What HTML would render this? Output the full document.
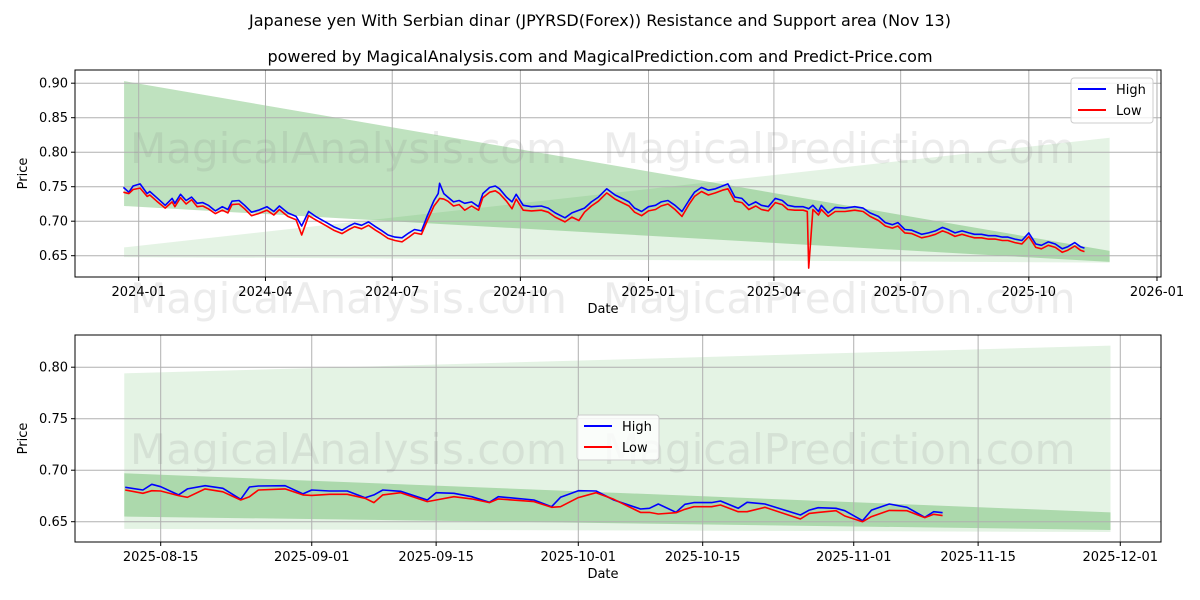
<!DOCTYPE html>
<html><head><meta charset="utf-8"><style>
html,body{margin:0;padding:0;background:#fff;}
svg{display:block;font-family:"DejaVu Sans","Liberation Sans",sans-serif;}
</style></head><body>
<svg id="svg" width="1200" height="600" viewBox="0 0 1200 600">
<text x="600" y="26" text-anchor="middle" font-size="16">Japanese yen With Serbian dinar (JPYRSD(Forex)) Resistance and Support area (Nov 13)</text>
<text x="600" y="62" text-anchor="middle" font-size="16">powered by MagicalAnalysis.com and MagicalPrediction.com and Predict-Price.com</text>
<g id="top"></g>
<g id="bot"></g>
</svg>
<script>
// ---- top chart data (days since 2024-01-01) ----
const topDays = [-11,-7,-4,1,6,8,13,19,24,26,30,34,38,42,46,50,55,60,64,67,72,76,81,86,92,97,101,107,113,117,122,127,134,140,146,151,155,160,165,170,174,179,184,189,194,198,203,207,212,215,216,219,222,226,230,234,239,244,247,252,256,259,264,268,271,276,282,289,294,299,306,311,316,320,325,330,336,342,347,352,356,361,366,371,375,380,385,390,395,399,404,409,414,419,423,428,433,438,443,447,452,457,462,466,471,477,480,481,484,488,490,495,500,507,514,520,525,531,536,541,545,550,555,562,567,572,577,581,586,591,596,600,605,610,615,620,624,629,634,639,644,648,653,658,663,667,672,676,679];
const topHigh = [.749,.742,.751,.754,.740,.743,.734,.723,.733,.726,.739,.730,.735,.726,.727,.723,.715,.721,.717,.729,.730,.723,.713,.716,.721,.714,.722,.712,.707,.693,.714,.707,.699,.692,.687,.693,.697,.694,.699,.692,.687,.680,.677,.676,.683,.688,.686,.707,.730,.740,.755,.740,.735,.728,.730,.726,.728,.721,.740,.749,.751,.747,.735,.728,.739,.723,.721,.722,.719,.712,.705,.712,.716,.719,.728,.735,.747,.738,.733,.728,.719,.714,.721,.723,.728,.730,.723,.714,.730,.742,.749,.745,.747,.751,.754,.735,.733,.723,.728,.723,.721,.733,.730,.723,.721,.721,.719,.718,.723,.714,.723,.712,.720,.719,.721,.719,.712,.707,.698,.695,.698,.688,.687,.681,.683,.686,.691,.688,.683,.686,.683,.681,.681,.679,.679,.677,.677,.674,.672,.683,.667,.665,.670,.667,.660,.663,.669,.663,.661];
const topLow  = [.742,.740,.746,.748,.736,.738,.729,.719,.728,.721,.734,.725,.731,.721,.722,.718,.711,.716,.712,.724,.725,.718,.708,.711,.716,.709,.717,.707,.702,.680,.708,.702,.694,.687,.682,.688,.692,.689,.694,.687,.682,.675,.672,.670,.677,.683,.681,.700,.722,.730,.733,.732,.729,.722,.724,.716,.722,.716,.734,.742,.744,.740,.729,.718,.732,.716,.715,.716,.713,.706,.699,.706,.701,.713,.722,.729,.741,.732,.727,.722,.713,.708,.715,.717,.722,.725,.717,.707,.724,.736,.743,.738,.741,.745,.747,.729,.727,.717,.722,.717,.715,.727,.724,.717,.716,.716,.714,.632,.717,.709,.717,.707,.714,.714,.716,.714,.707,.701,.693,.690,.693,.683,.682,.676,.678,.681,.686,.683,.678,.681,.678,.676,.676,.674,.674,.672,.672,.669,.667,.678,.662,.660,.665,.662,.655,.658,.664,.658,.656];
const topTickLabels = ['2024-01','2024-04','2024-07','2024-10','2025-01','2025-04','2025-07','2025-10','2026-01'];
const topTickDays = [0,91,182,274,366,456,547,639,731];
const topYTicks = [0.65,0.70,0.75,0.80,0.85,0.90];
const topBandDays = [-10.5,697];
const topBandA_upper = [.903,.657], topBandA_lower = [.722,.641];
const topBandB_upper = [.662,.821], topBandB_lower = [.648,.640];

// ---- bottom chart data (days since 2025-08-15) ----
const botDays = [-4,-2,-1,0,2,3,5,7,9,10,11,14,16,17,19,21,23,24,25,27,30,31,33,35,37,38,42,44,45,47,49,51,54,55,56,58,59,60,62,63,65,66,68,72,73,74,76,77,79,80,82,84,86,87,88];
const botHigh = [.6834,.6808,.6863,.684,.676,.6818,.685,.6824,.6717,.6837,.6847,.685,.677,.6808,.6798,.6798,.6733,.676,.6808,.6795,.6711,.6782,.6776,.6743,.6688,.6743,.6711,.6646,.6737,.6801,.6798,.6711,.6623,.663,.6672,.6591,.6669,.6685,.6685,.6701,.663,.6688,.6672,.6565,.6613,.6636,.663,.6607,.651,.6613,.6672,.664,.6543,.6597,.6587];
const botLow  = [.6808,.6776,.6801,.6798,.6753,.6737,.6818,.679,.6711,.6743,.6808,.6818,.676,.6755,.6766,.6766,.6727,.6685,.676,.6782,.6695,.6711,.6743,.6721,.6685,.6721,.6695,.664,.6646,.6734,.6782,.6717,.659,.659,.6575,.6587,.662,.6646,.6646,.6662,.6597,.6597,.664,.6526,.6581,.659,.6607,.6555,.65,.655,.661,.6607,.654,.6572,.6559];
const botTickLabels = ['2025-08-15','2025-09-01','2025-09-15','2025-10-01','2025-10-15','2025-11-01','2025-11-15','2025-12-01'];
const botTickDays = [0,17,31,47,61,78,92,108];
const botYTicks = [0.65,0.70,0.75,0.80];
const botBandDays = [-4.1,106.9];
const botBandA_upper = [.697,.659], botBandA_lower = [.655,.642];
const botBandB_upper = [.794,.821], botBandB_lower = [.643,.640];

const NS='http://www.w3.org/2000/svg';
function mk(parent,tag,attrs){const e=document.createElementNS(NS,tag);for(const k in attrs)e.setAttribute(k,attrs[k]);parent.appendChild(e);return e;}

function panel(g,cfg){
  const L=75,R=1161,T=cfg.T,B=cfg.B;
  const sx=d=>cfg.x0+d*cfg.pxd;
  const sy=v=>cfg.y0-(v-cfg.v0)*cfg.pxv;
  const clip=mk(g,'clipPath',{id:cfg.id+'clip'});
  mk(clip,'rect',{x:L,y:T,width:R-L,height:B-T});
  const plot=mk(g,'g',{'clip-path':'url(#'+cfg.id+'clip)'});
  function band(up,lo,fill,op,name){
    const p=mk(plot,'polygon',{points:[sx(cfg.bd[0])+','+sy(up[0]),sx(cfg.bd[1])+','+sy(up[1]),sx(cfg.bd[1])+','+sy(lo[1]),sx(cfg.bd[0])+','+sy(lo[0])].join(' '),fill:fill,'fill-opacity':op});
    
    
  }
  band(cfg.bB_u,cfg.bB_l,'#2ca02c',0.13,'support-resistance-band-light');
  band(cfg.bA_u,cfg.bA_l,'#2ca02c',0.3,'support-resistance-band-dark');
  // grid
  cfg.yt.forEach(v=>{const l=mk(plot,'line',{x1:L,x2:R,y1:sy(v),y2:sy(v),stroke:'#b0b0b0','stroke-width':1});
    
    });
  cfg.xd.forEach(d=>{const l=mk(plot,'line',{x1:sx(d),x2:sx(d),y1:T,y2:B,stroke:'#b0b0b0','stroke-width':1});
    
    });
  // watermark
  cfg.wm.forEach(w=>{const t=mk(g,'text',{x:w[0],y:w[1],'font-size':42,fill:'#808080','fill-opacity':0.15});t.textContent=w[2];
    
    });
  function line(days,vals,color,name){
    const p=mk(plot,'polyline',{points:days.map((d,i)=>sx(d).toFixed(1)+','+sy(vals[i]).toFixed(1)).join(' '),fill:'none',stroke:color,'stroke-width':cfg.lw,'stroke-linejoin':'round'});
    
    
  }
  line(cfg.days,cfg.hi,'#0000ff','high-line');
  line(cfg.days,cfg.lo,'#ff0000','low-line');
  const fr=mk(g,'rect',{x:L,y:T,width:R-L,height:B-T,fill:'none',stroke:'#000','stroke-width':1});
  
  
  cfg.yt.forEach(v=>{mk(g,'line',{x1:L-4,x2:L,y1:sy(v),y2:sy(v),stroke:'#000'});
    const t=mk(g,'text',{x:L-7,y:sy(v)+4.5,'text-anchor':'end','font-size':13});t.textContent=v.toFixed(2);
    
    });
  cfg.xd.forEach((d,i)=>{mk(g,'line',{x1:sx(d),x2:sx(d),y1:B,y2:B+4,stroke:'#000'});
    const t=mk(g,'text',{x:sx(d),y:B+19,'text-anchor':'middle','font-size':13});t.textContent=cfg.xl[i];
    
    });
  const xt=mk(g,'text',{x:(L+R)/2-15,y:B+36,'text-anchor':'middle','font-size':13});xt.textContent='Date';
  
  
  const yt=mk(g,'text',{x:0,y:0,'text-anchor':'middle','font-size':13,transform:'translate(27,'+((T+B)/2)+') rotate(-90)'});yt.textContent='Price';
  
  
  // legend
  const lg=mk(g,'g',{});
  
  
  const [lx,ly]=cfg.leg;
  mk(lg,'rect',{x:lx,y:ly,width:82,height:45,rx:3,fill:'#fff','fill-opacity':0.8,stroke:'#cccccc'});
  [['High','#0000ff'],['Low','#ff0000']].forEach((e,i)=>{
    const ge=mk(lg,'g',{});
    
    
    mk(ge,'line',{x1:lx+7,x2:lx+35,y1:ly+11+i*21,y2:ly+11+i*21,stroke:e[1],'stroke-width':2});
    const t=mk(ge,'text',{x:lx+45,y:ly+16+i*21,'font-size':13});t.textContent=e[0];
  });
}
panel(document.getElementById('top'),{id:'top',T:70,B:277,x0:138.7,pxd:1.393,y0:255.7,v0:0.65,pxv:690,
  days:topDays,hi:topHigh,lo:topLow,yt:topYTicks,xd:topTickDays,xl:topTickLabels,bd:topBandDays,
  bA_u:topBandA_upper,bA_l:topBandA_lower,bB_u:topBandB_upper,bB_l:topBandB_lower,lw:1.6,leg:[1071,78],
  wm:[[130,163,'MagicalAnalysis.com'],[603,163,'MagicalPrediction.com'],[130,313,'MagicalAnalysis.com'],[603,313,'MagicalPrediction.com']]});
panel(document.getElementById('bot'),{id:'bot',T:335,B:542,x0:160.7,pxd:8.885,y0:521.7,v0:0.65,pxv:1030,
  days:botDays,hi:botHigh,lo:botLow,yt:botYTicks,xd:botTickDays,xl:botTickLabels,bd:botBandDays,
  bA_u:botBandA_upper,bA_l:botBandA_lower,bB_u:botBandB_upper,bB_l:botBandB_lower,lw:1.6,leg:[577,415],
  wm:[[130,464,'MagicalAnalysis.com'],[603,464,'MagicalPrediction.com']]});
</script>
</body></html>
